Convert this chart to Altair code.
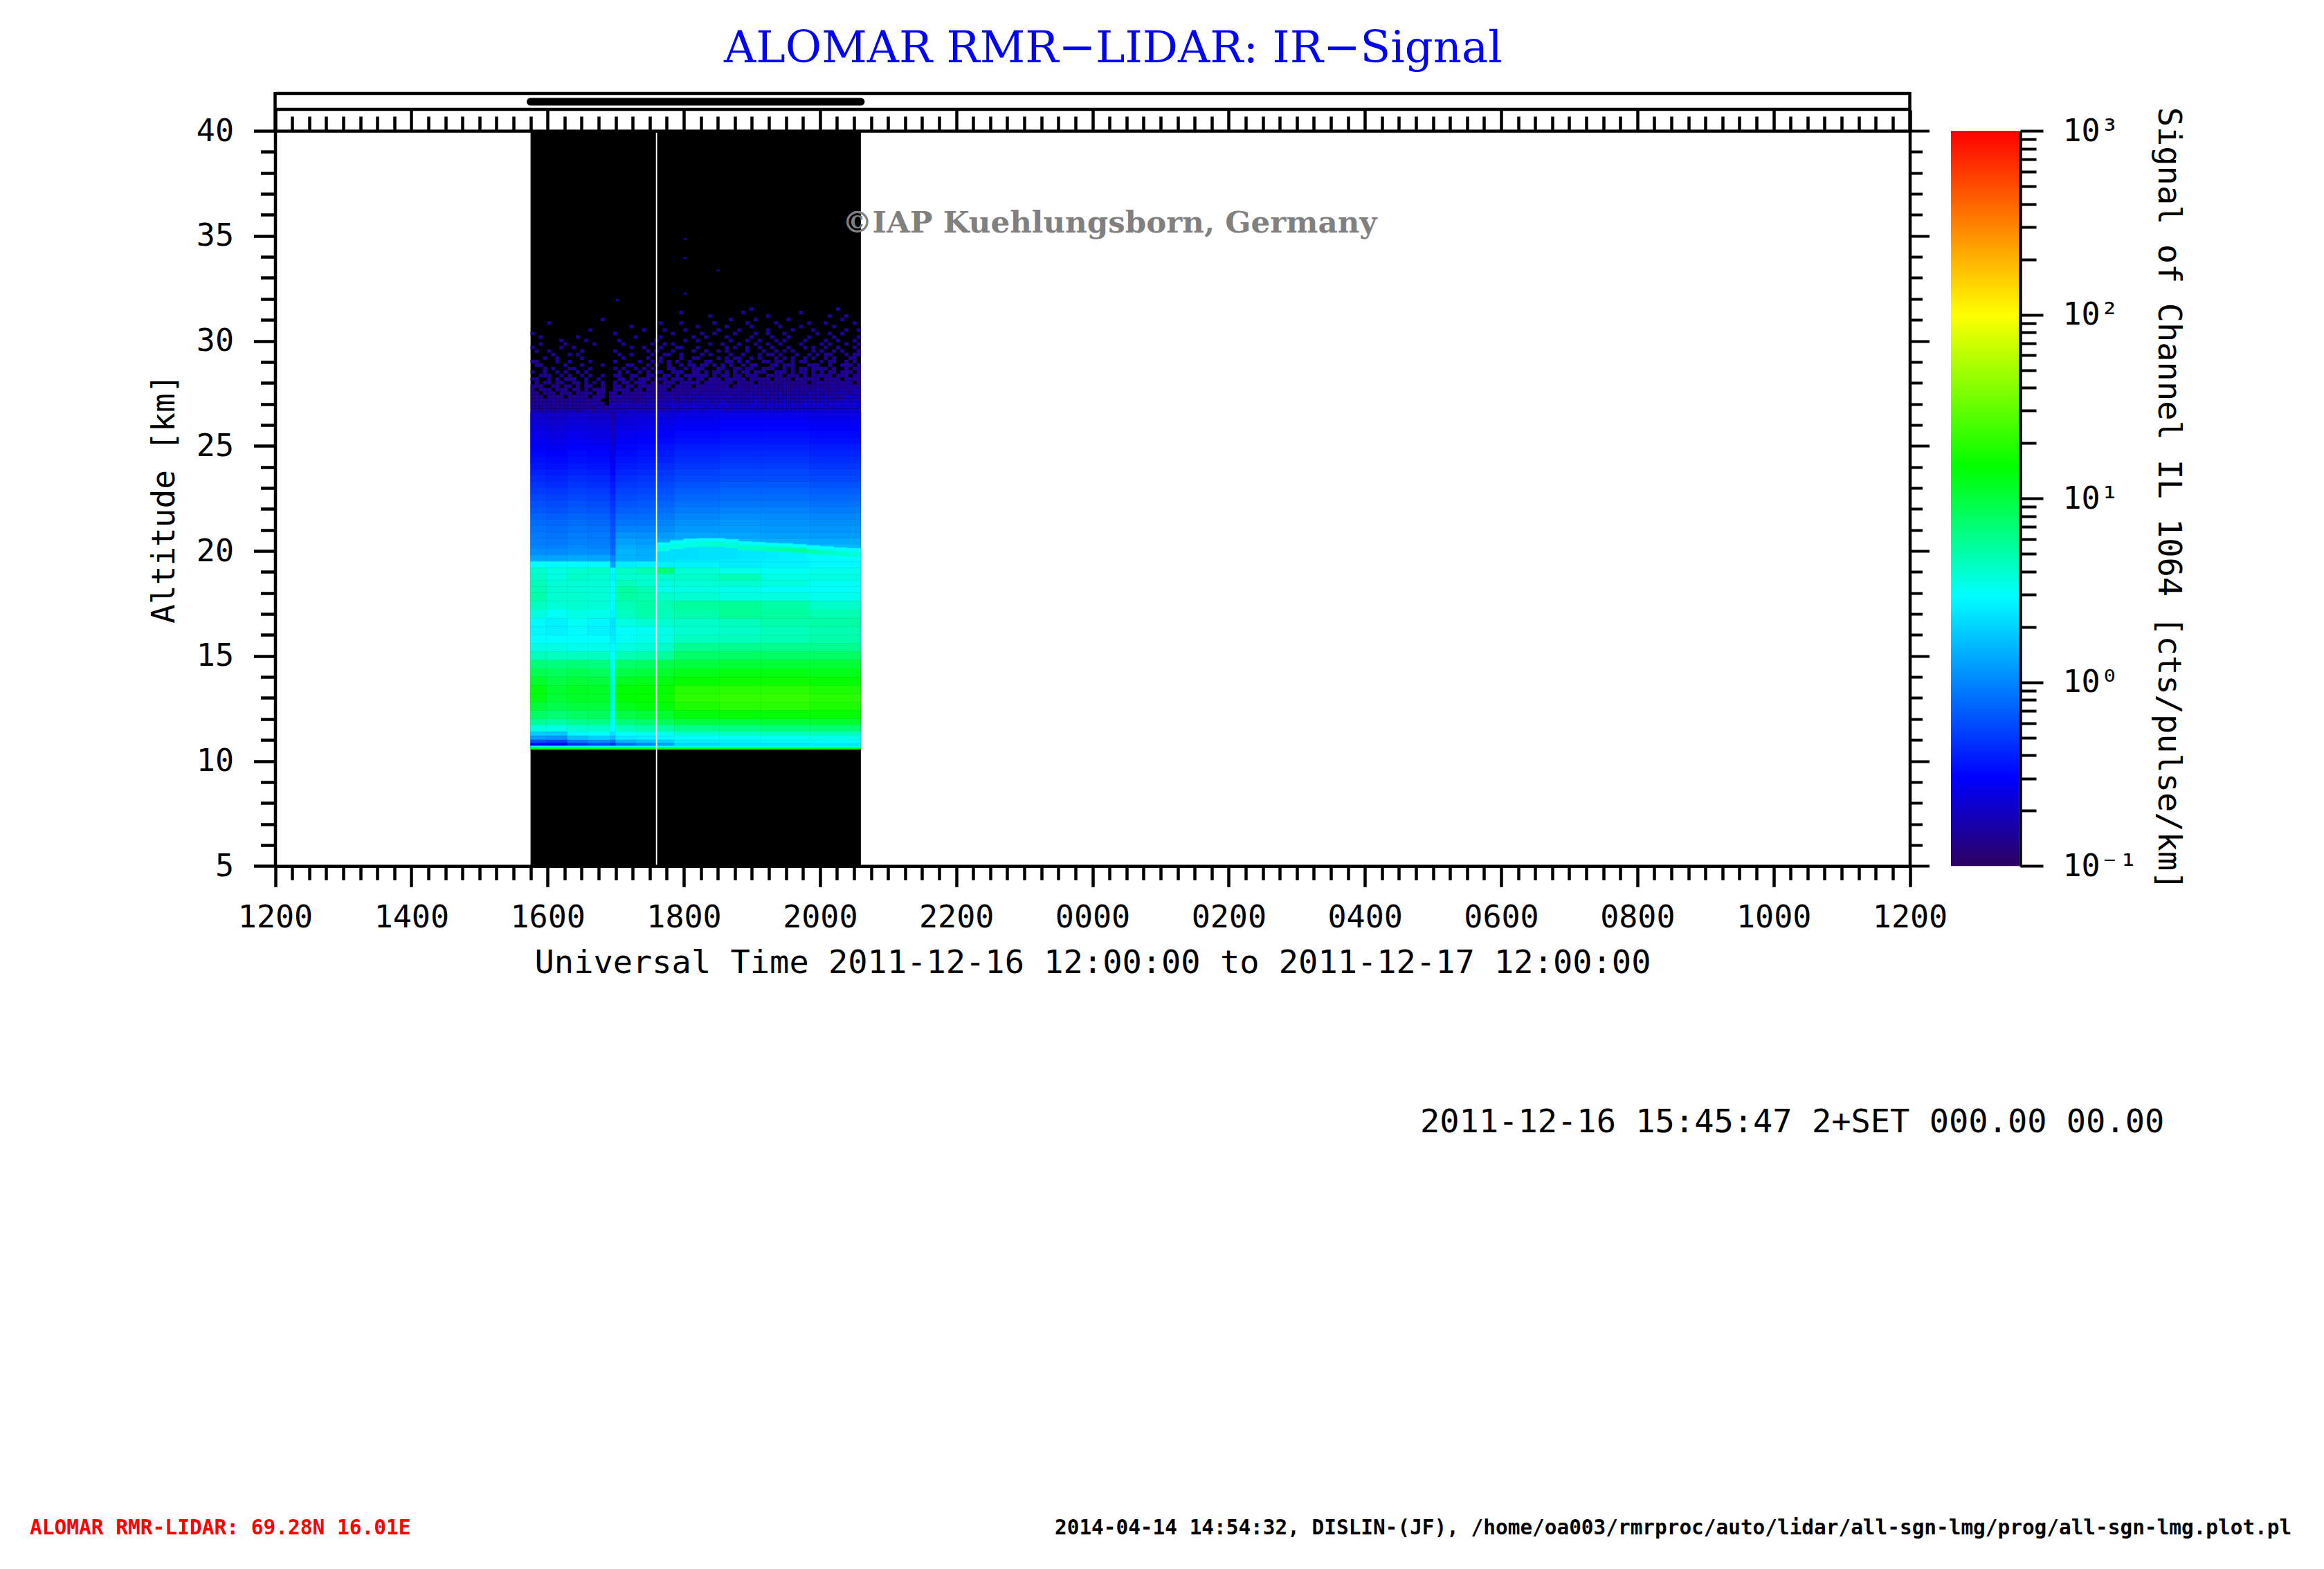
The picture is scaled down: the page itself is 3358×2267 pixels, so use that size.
import altair as alt
import pandas as pd

W, H = 3342, 2251
X0, X1 = 389.5, 2751.5
Y_TOP, Y_BOT = 181.0, 1243.3
MONO = "DejaVu Sans Mono"
SERIF = "DejaVu Serif"

TITLE = "ALOMAR RMR\u2212LIDAR: IR\u2212Signal"
WATERMARK = "\u00a9IAP Kuehlungsborn, Germany"
XTITLE = "Universal Time 2011-12-16 12:00:00 to 2011-12-17 12:00:00"
YTITLE = "Altitude [km]"
CTITLE = "Signal of Channel IL 1064 [cts/pulse/km]"
SET_TEXT = "2011-12-16 15:45:47 2+SET 000.00 00.00"
FOOT_LEFT = "ALOMAR RMR-LIDAR: 69.28N 16.01E"
FOOT_RIGHT = "2014-04-14 14:54:32, DISLIN-(JF), /home/oa003/rmrproc/auto/lidar/all-sgn-lmg/prog/all-sgn-lmg.plot.pl"

# hours after 12:00 UT
X_TICKS = [i * 0.25 for i in range(97)]
Y_TICKS = list(range(5, 41))
C_TICKS = [0.1, 0.2, 0.3, 0.4, 0.5, 0.6, 0.7, 0.8, 0.9,
           1, 2, 3, 4, 5, 6, 7, 8, 9,
           10, 20, 30, 40, 50, 60, 70, 80, 90,
           100, 200, 300, 400, 500, 600, 700, 800, 900, 1000]

# measurement period and the gap line, in hours after 12:00 UT
RUN_START, RUN_END = 3.75, 8.60
GAP_TIME = 5.60

# colour ramp: log10(signal) and colour
RAMP_LOG = [-1.0, -0.52, 0.47, 1.17, 2.0, 3.0]
RAMP_COL = ["#2d0060", "#0000ff", "#00ffff", "#00ff00", "#ffff00", "#ff0000"]

TIME_EDGES = [3.75, 3.98, 4.29, 4.59, 4.92, 5.00, 5.30, 5.61, 5.86, 6.52, 7.13, 7.85, 8.60]
ALT_EDGES = [26.6, 26.3, 26.0, 25.7, 25.4, 25.1, 24.8, 24.5, 24.2, 23.9, 23.6, 23.3, 23.0,
             22.7, 22.4, 22.1, 21.8, 21.5, 21.2, 20.9, 20.6, 20.3, 20.1,
             19.8, 19.5, 19.2, 18.9, 18.6, 18.3, 18.0, 17.6, 17.2, 16.8, 16.4, 16.0, 15.6,
             15.2, 14.8, 14.4, 14.0, 13.6, 13.2, 12.8, 12.4, 12.0, 11.7, 11.4, 11.2, 11.0,
             10.85, 10.72, 10.64, 10.55]

# log10(signal) read by colour, one row per altitude band, one column per time band
SIGNAL_LOG = [
    [-.68, -.70, -.67, -.70, -.80, -.66, -.64, -.62, -.59, -.57, -.57, -.59],
    [-.65, -.67, -.64, -.66, -.76, -.63, -.61, -.59, -.56, -.54, -.54, -.56],
    [-.62, -.64, -.61, -.63, -.73, -.60, -.58, -.56, -.53, -.51, -.51, -.53],
    [-.59, -.61, -.58, -.60, -.70, -.57, -.55, -.52, -.49, -.47, -.47, -.49],
    [-.56, -.58, -.55, -.57, -.67, -.54, -.52, -.49, -.46, -.44, -.44, -.46],
    [-.53, -.55, -.52, -.54, -.63, -.51, -.49, -.45, -.42, -.40, -.40, -.42],
    [-.50, -.52, -.49, -.51, -.60, -.48, -.46, -.42, -.38, -.36, -.36, -.38],
    [-.47, -.49, -.46, -.48, -.57, -.45, -.43, -.39, -.35, -.33, -.33, -.35],
    [-.44, -.46, -.43, -.45, -.54, -.42, -.40, -.35, -.31, -.29, -.29, -.31],
    [-.40, -.42, -.39, -.41, -.50, -.38, -.36, -.32, -.27, -.25, -.25, -.27],
    [-.36, -.38, -.35, -.37, -.46, -.34, -.32, -.28, -.24, -.22, -.22, -.24],
    [-.33, -.35, -.32, -.34, -.42, -.31, -.29, -.24, -.20, -.18, -.18, -.20],
    [-.29, -.31, -.28, -.30, -.39, -.27, -.25, -.21, -.16, -.14, -.14, -.16],
    [-.25, -.27, -.24, -.26, -.35, -.23, -.21, -.17, -.12, -.10, -.10, -.12],
    [-.21, -.23, -.20, -.22, -.32, -.19, -.17, -.13, -.08, -.06, -.06, -.08],
    [-.18, -.20, -.17, -.19, -.28, -.15, -.14, -.09, -.04, -.02, -.02, -.04],
    [-.14, -.16, -.13, -.15, -.25, -.11, -.10, -.05, .00, .02, .02, .00],
    [-.10, -.12, -.09, -.11, -.22, -.06, -.06, -.01, .04, .06, .05, .03],
    [-.07, -.09, -.06, -.08, -.19, -.01, -.01, .03, .08, .09, .08, .06],
    [-.05, -.07, -.04, -.05, -.17, .05, .04, .08, .12, .12, .10, .08],
    [-.03, -.05, -.02, -.03, -.15, .10, .08, .14, .18, .18, .15, .14],
    [-.01, -.02, .01, -.01, -.13, .14, .12, .20, .24, .24, .22, .20],
    [.03, .02, .04, .02, -.10, .18, .15, .38, .40, .40, .40, .40],
    [.12, .12, .14, .12, .00, .18, .16, .34, .38, .40, .42, .45],
    [.48, .46, .45, .45, .10, .40, .42, .42, .42, .40, .42, .45],
    [.60, .55, .60, .62, .45, .62, .68, .85, .58, .52, .50, .52],
    [.62, .55, .62, .60, .42, .60, .60, .60, .62, .68, .55, .55],
    [.66, .58, .58, .58, .46, .66, .60, .55, .58, .60, .56, .50],
    [.68, .60, .58, .58, .46, .72, .68, .52, .54, .52, .48, .48],
    [.70, .60, .60, .58, .46, .72, .70, .62, .60, .56, .56, .52],
    [.64, .58, .60, .58, .45, .68, .72, .68, .74, .76, .72, .62],
    [.56, .50, .54, .52, .42, .64, .70, .66, .70, .76, .74, .68],
    [.46, .42, .50, .44, .36, .56, .60, .60, .62, .66, .70, .72],
    [.44, .42, .46, .42, .38, .48, .50, .54, .60, .62, .66, .68],
    [.47, .47, .47, .47, .40, .50, .52, .55, .64, .66, .68, .70],
    [.54, .54, .52, .52, .44, .56, .58, .62, .78, .78, .78, .78],
    [.66, .64, .64, .64, .47, .68, .70, .74, .88, .90, .90, .90],
    [.84, .82, .84, .82, .52, .88, .90, .96, 1.0, 1.02, 1.02, 1.02],
    [.95, .92, .95, .92, .55, .98, 1.0, 1.05, 1.1, 1.12, 1.12, 1.10],
    [1.05, .98, 1.02, 1.0, .58, 1.08, 1.1, 1.12, 1.18, 1.2, 1.2, 1.18],
    [1.14, 1.04, 1.08, 1.06, .60, 1.16, 1.17, 1.18, 1.28, 1.3, 1.3, 1.26],
    [1.12, 1.02, 1.06, 1.06, .60, 1.17, 1.18, 1.2, 1.32, 1.34, 1.34, 1.3],
    [1.02, .96, 1.0, 1.0, .58, 1.1, 1.14, 1.14, 1.26, 1.3, 1.3, 1.26],
    [.90, .86, .90, .92, .54, .98, 1.02, 1.04, 1.14, 1.18, 1.18, 1.18],
    [.76, .72, .78, .80, .50, .84, .88, .92, 1.0, 1.0, 1.02, 1.04],
    [.56, .55, .60, .62, .46, .66, .70, .72, .80, .82, .84, .86],
    [.28, .25, .44, .48, .36, .50, .52, .52, .60, .62, .64, .66],
    [.08, .05, .22, .28, .20, .38, .40, .44, .50, .50, .52, .54],
    [-.22, -.28, -.05, .02, -.06, .18, .24, .30, .42, .44, .46, .47],
    [-.50, -.52, -.35, -.25, -.35, -.10, .00, .10, .32, .36, .38, .40],
    [.45, .45, .45, .45, .45, .45, .45, .47, .47, .47, .47, .47],
    [1.1, 1.1, 1.1, 1.1, 1.1, 1.1, 1.1, 1.1, 1.1, 1.1, 1.1, 1.1],
]

# the aerosol layer of the later hours: its top (km) and levels, per time step
LAYER_TIME = [5.61, 5.8, 6.0, 6.2, 6.4, 6.6, 6.8, 7.0, 7.2, 7.4, 7.6, 7.8, 8.0, 8.2, 8.4, 8.6]
LAYER_TOP = [20.40, 20.50, 20.58, 20.60, 20.60, 20.55, 20.45, 20.42, 20.38, 20.36, 20.32, 20.26, 20.22, 20.16, 20.12]
LAYER_STREAK = [.55, .55, .55, .58, .60, .60, .62, .64, .68, .72, .74, .68, .64, .60, .58]
LAYER_BELOW = [.34, .34, .34, .36, .36, .36, .38, .38, .40, .42, .42, .45, .45, .47, .47]
LAYER_BASE = 19.6
LAYER_CAP_LEVEL = .46
LAYER_CAP_KM, LAYER_STREAK_KM = .18, .42

# sparse returns near the top of the signal; 0 = nothing, 1..3 = rising purple level
SPECK_TOP, SPECK_ROW_KM = 31.6, 1 / 6
SPECK_LEVEL = {"1": -.85, "2": -.75, "3": -.65}
SPECK_ROWS = [
    "0000000000 0000000000 0000000000 0000000000 0000000000 0001000000 0000000000 0000100000",
    "0000000000 0000000000 0000000000 0000001000 0000000000 0100000000 0000010000 0000000000",
    "0000000000 0000000000 0000000000 0000000000 0001000000 0000000100 0000000000 0010001000",
    "0000000000 0000000100 0000000000 0000000000 0000000010 0000100000 0010000000 0000010000",
    "0000100000 0000000000 0000000000 0100001000 0000100000 0010000001 0000000100 0100000010",
    "0000000000 0000000000 0000100000 0000000000 1000000100 0001000000 1000010000 0001000000",
    "0000000000 0000100000 0000000100 0010000100 0000010000 1000000100 0001000010 0000001001",
    "1000000000 0000000000 1000000000 0000100000 0100100001 0000100100 0100000001 0010010000",
    "0010000000 0100000000 0000010000 0100000001 0010000100 0001000010 0010000100 0001000001",
    "0000000100 0001000000 0100000000 1000000100 1000000010 0010010001 0100001000 0100100010",
    "0010000010 0000010000 0010000001 0010100000 0001001000 1000100100 1000010000 1010001001",
    "1000000100 1000000000 0000100100 0100011000 1000000101 0010010010 0010001010 0100100010",
    "0100100000 0010000000 1000000010 1000100001 0010010100 0010001001 0101000010 1001010001",
    "0000010001 0100000000 0100100001 0011001000 0101000010 0100010110 1000100101 0110001011",
    "0001001000 0010000000 0010000010 0100001001 1000010101 1001010001 0101001010 0101000110",
    "1100001001 0000100000 1000001001 0101010010 0011000110 1010001101 1001011000 1011001010",
    "0110000010 0010000100 0001100010 1001001011 0110101010 0101100011 0111000111 0010011101",
    "0001010001 1000100000 1010010101 0001100101 1100011001 1011001110 0101011011 1101001011",
    "1001001010 0101000000 0101001010 1100111001 1010110101 0110111001 1101011010 1011011101",
    "0011100101 0010100100 1100110011 0011010111 1110101101 1011100111 1011101011 1110111011",
    "1100101011 1001001000 0110101110 1110111010 1101110111 1101111101 1110111111 0111101111",
    "0101101100 1101010100 1011011101 1011101111 1011111110 1111011111 1111111011 1111111101",
    "1110011011 0101100100 1101101111 1111011110 1112111101 1111211111 1211111111 1112111211",
    "1011101110 1101011100 1111011011 1110111111 1111111211 2111112121 1111212112 2111121122",
    "1101110111 0111101101 1011111111 1121111112 1121212112 1212112212 2121211222 1212222122",
    "1110111101 1111011101 1211111121 1112112121 2212121221 2122221212 2221222212 2222122322",
    "1111211111 1211111001 1112111212 1212212212 2222222122 2222322222 2322222322 2322223232",
    "1211121112 1111121101 2121212122 2122222222 2232223222 3222322232 2323223232 3232323233",
    "2112111212 1212112112 1222122222 2222322323 2323232323 3233232323 3323233323 3323333333",
    "2212212222 2122212212 2222322222 3222323233 3233333233 3333333333 3333333333 3333333333",
]

# isolated returns above the noise: hours, km
ISOLATED_TIME = [6.0, 6.0, 6.0, 6.48, 5.0]
ISOLATED_ALT = [34.8, 33.9, 32.2, 33.3, 31.9]

# ---------- tables ----------
cells = []
for r, row in enumerate(SIGNAL_LOG):
    for c, v in enumerate(row):
        cells.append(dict(t0=TIME_EDGES[c], t1=TIME_EDGES[c + 1],
                          a0=ALT_EDGES[r + 1], a1=ALT_EDGES[r], v=v))
for c, top in enumerate(LAYER_TOP):
    t0, t1 = LAYER_TIME[c], LAYER_TIME[c + 1]
    cells.append(dict(t0=t0, t1=t1, a0=top - LAYER_CAP_KM, a1=top, v=LAYER_CAP_LEVEL))
    cells.append(dict(t0=t0, t1=t1, a0=top - LAYER_STREAK_KM, a1=top - LAYER_CAP_KM, v=LAYER_STREAK[c]))
    cells.append(dict(t0=t0, t1=t1, a0=LAYER_BASE, a1=top - LAYER_STREAK_KM, v=LAYER_BELOW[c]))
cells = pd.DataFrame(cells)

specks = []
speck_dt = (RUN_END - RUN_START) / 80
for r, row_text in enumerate(SPECK_ROWS):
    chars = row_text.replace(" ", "")
    for c, ch in enumerate(chars):
        if ch in SPECK_LEVEL:
            specks.append(dict(t0=RUN_START + c * speck_dt, t1=RUN_START + (c + 1) * speck_dt,
                               a0=SPECK_TOP - (r + 1) * SPECK_ROW_KM, a1=SPECK_TOP - r * SPECK_ROW_KM,
                               v=SPECK_LEVEL[ch]))
for t, a in zip(ISOLATED_TIME, ISOLATED_ALT):
    specks.append(dict(t0=t, t1=t + 0.04, a0=a, a1=a + 0.1, v=-.75))
specks = pd.DataFrame(specks)

sx = alt.Scale(domain=[0, 24], range=[X0, X1], nice=False, zero=False)
sy = alt.Scale(domain=[5, 40], range=[Y_BOT, Y_TOP], nice=False, zero=False)
sc = alt.Scale(type="log", base=10, domain=[0.1, 1000], range=[Y_BOT, Y_TOP], nice=False)
col = alt.Scale(domain=RAMP_LOG, range=RAMP_COL, interpolate="rgb")

AXIS = dict(grid=False, domainColor="black", domainWidth=4.5, tickColor="black",
            labelFont=MONO, labelColor="black", titleFont=MONO, titleColor="black",
            titleFontWeight="normal", labelOverlap=False, labelFlush=False, labelBound=False,
            zindex=2)

x_major = "datum.value % 2 == 0"
y_major = "datum.value % 5 == 0"
c_major = "indexof([0.1,1,10,100,1000],datum.value)>=0"

axis_bottom = alt.Axis(orient="bottom", offset=-(H - Y_BOT), values=X_TICKS,
                       tickSize=alt.expr(f"{x_major} ? 30 : 20"), tickWidth=4.5,
                       labelExpr=f"{x_major} ? format((12+datum.value)%24*100,'04d') : ''",
                       labelFontSize=45, labelPadding=22, labelAngle=0, title=XTITLE,
                       titleFontSize=47, titlePadding=20, **AXIS)
axis_top = alt.Axis(orient="top", offset=-Y_TOP, values=X_TICKS,
                    tickSize=alt.expr(f"{x_major} ? 30 : 21"), tickWidth=4.5,
                    labels=False, title=None, **AXIS)
axis_left = alt.Axis(orient="left", offset=-X0, values=Y_TICKS,
                     tickSize=alt.expr(f"{y_major} ? 31 : 21"), tickWidth=4.5,
                     labelExpr=f"{y_major} ? datum.value : ''",
                     labelFontSize=45, labelPadding=29, title=YTITLE,
                     titleFontSize=46, titlePadding=22, **AXIS)
axis_right = alt.Axis(orient="right", offset=-(W - X1), values=Y_TICKS,
                      tickSize=alt.expr(f"{y_major} ? 28 : 18"), tickWidth=4,
                      labels=False, title=None, **AXIS)
axis_c = alt.Axis(orient="right", offset=-(W - 2911), values=C_TICKS,
                  tickSize=alt.expr(f"{c_major} ? 33 : 23"), tickWidth=4,
                  labelExpr="{'0.1':'10\u207b\u00b9','1':'10\u2070','10':'10\u00b9','100':'10\u00b2','1000':'10\u00b3'}[''+datum.value] || ''",
                  labelFontSize=45, labelPadding=28, title=CTITLE,
                  titleFontSize=47, titleAngle=90, titlePadding=20, **AXIS)


def one(**kw):
    return alt.Chart(pd.DataFrame([kw]))


def text(s, x, y, size, color="black", font=MONO, weight="normal", align="left", angle=0):
    return one(t=s).mark_text(font=font, fontSize=size, color=color, fontWeight=weight,
                              align=align, baseline="alphabetic", angle=angle).encode(
        x=alt.value(x), y=alt.value(y), text="t:N")


background = one(t0=RUN_START, t1=RUN_END, a0=5, a1=40).mark_rect(color="black").encode(
    x=alt.X("t0:Q", scale=sx, axis=None), x2="t1:Q",
    y=alt.Y("a0:Q", scale=sy, axis=None), y2="a1:Q")

heat = alt.Chart(cells).mark_rect(strokeWidth=0.5).encode(
    x=alt.X("t0:Q", scale=sx, axis=None), x2="t1:Q",
    y=alt.Y("a0:Q", scale=sy, axis=None), y2="a1:Q",
    fill=alt.Fill("v:Q", scale=col, legend=None),
    stroke=alt.Stroke("v:Q", scale=col, legend=None))

speck_marks = alt.Chart(specks).mark_rect().encode(
    x=alt.X("t0:Q", scale=sx, axis=None), x2="t1:Q",
    y=alt.Y("a0:Q", scale=sy, axis=None), y2="a1:Q",
    fill=alt.Fill("v:Q", scale=col, legend=None))

gap = one(t=GAP_TIME, a0=5, a1=40).mark_rule(color="white", size=1.8).encode(
    x=alt.X("t:Q", scale=sx, axis=None),
    y=alt.Y("a0:Q", scale=sy, axis=None), y2="a1:Q")

# four axes, drawn by two transparent frames
frame_a = one(t0=0, t1=24, a0=5, a1=40).mark_rect(opacity=0).encode(
    x=alt.X("t0:Q", scale=sx, axis=axis_bottom), x2="t1:Q",
    y=alt.Y("a0:Q", scale=sy, axis=axis_left), y2="a1:Q")
frame_b = one(t0=0, t1=24, a0=5, a1=40).mark_rect(opacity=0).encode(
    x=alt.X("t0:Q", scale=sx, axis=axis_top), x2="t1:Q",
    y=alt.Y("a0:Q", scale=sy, axis=axis_right), y2="a1:Q")

# strip above the plot with the measuring period
run_bar = one(t0=RUN_START, t1=RUN_END).mark_rule(color="black", size=11, strokeCap="round").encode(
    x=alt.X("t0:Q", scale=sx, axis=None), x2="t1:Q", y=alt.value(139))
strip_top = one(t0=0, t1=24).mark_rule(color="black", size=4.5).encode(
    x=alt.X("t0:Q", scale=sx, axis=None), x2="t1:Q", y=alt.value(127))
strip_mid = one(t0=0, t1=24).mark_rule(color="black", size=4.5).encode(
    x=alt.X("t0:Q", scale=sx, axis=None), x2="t1:Q", y=alt.value(150))
strip_left = one(t=0).mark_rule(color="black", size=4.5).encode(
    x=alt.X("t:Q", scale=sx, axis=None), y=alt.value(125), y2=alt.value(181))
strip_right = one(t=24).mark_rule(color="black", size=4.5).encode(
    x=alt.X("t:Q", scale=sx, axis=None), y=alt.value(125), y2=alt.value(181))

# colour bar
stops = [alt.GradientStop(offset=(v + 1) / 4, color=c) for v, c in zip(RAMP_LOG, RAMP_COL)]
gradient = alt.LinearGradient(gradient="linear", stops=stops, x1=0, x2=0, y1=1, y2=0)
colorbar = one(lo=0.1, hi=1000).mark_rect(color=gradient).encode(
    x=alt.value(2811), x2=alt.value(2909),
    y=alt.Y("lo:Q", scale=sc, axis=axis_c), y2="hi:Q")

chart = alt.layer(
    background, heat, speck_marks, gap, frame_a, frame_b,
    run_bar, strip_top, strip_mid, strip_left, strip_right, colorbar,
    text(TITLE, 1038, 82, 64, color="#0000ff", font=SERIF),
    text(WATERMARK, 1209, 328, 43.6, color="#808080", font=SERIF, weight="bold"),
    text(SET_TEXT, 2044, 1628, 47),
    text(FOOT_LEFT, 35, 2209, 29.5, color="#ff0000", weight="bold"),
    text(FOOT_RIGHT, 1516, 2209, 29.4, weight="bold"),
).resolve_scale(x="independent", y="independent").resolve_axis(x="independent", y="independent").properties(
    width=W, height=H, padding=0, background="white",
    autosize=alt.AutoSizeParams(type="none"),
).configure_view(stroke=None)

chart.save("out.html", embed_options={"renderer": "svg", "actions": False})
